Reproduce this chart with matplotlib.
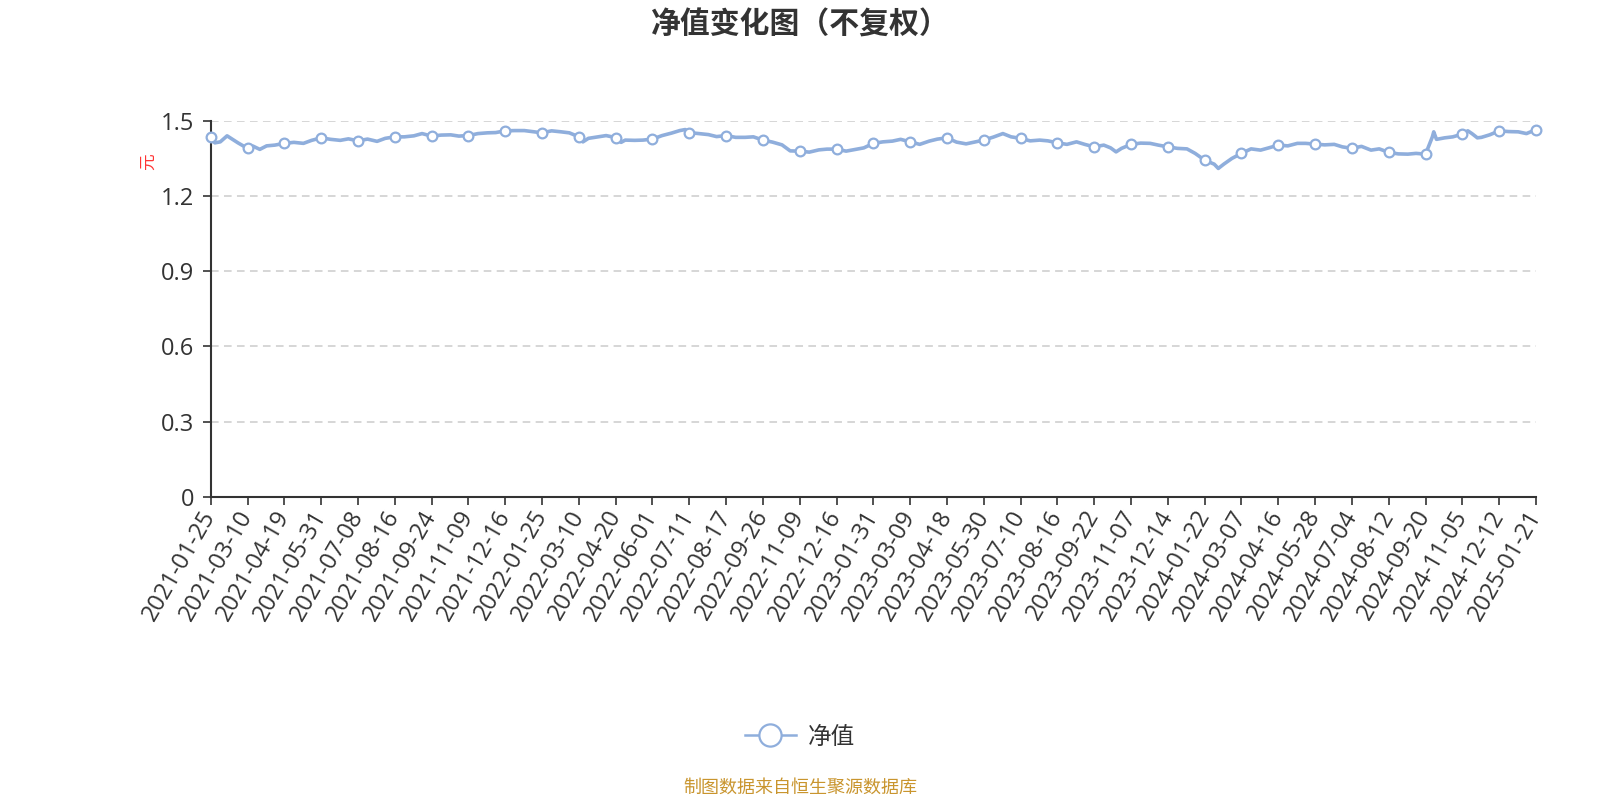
import matplotlib
matplotlib.use("Agg")
import matplotlib.pyplot as plt
from matplotlib.lines import Line2D
import numpy as np

plt.rcParams['font.family'] = ['Noto Sans CJK SC', 'DejaVu Sans']

title = "净值变化图（不复权）"
y_label = "元"
series_name = "净值"
source_text = "制图数据来自恒生聚源数据库"

tick_labels = [
    "2021-01-25", "2021-03-10", "2021-04-19", "2021-05-31", "2021-07-08", "2021-08-16",
    "2021-09-24", "2021-11-09", "2021-12-16", "2022-01-25", "2022-03-10", "2022-04-20",
    "2022-06-01", "2022-07-11", "2022-08-17", "2022-09-26", "2022-11-09", "2022-12-16",
    "2023-01-31", "2023-03-09", "2023-04-18", "2023-05-30", "2023-07-10", "2023-08-16",
    "2023-09-22", "2023-11-07", "2023-12-14", "2024-01-22", "2024-03-07", "2024-04-16",
    "2024-05-28", "2024-07-04", "2024-08-12", "2024-09-20", "2024-11-05", "2024-12-12",
    "2025-01-21",
]
label_interval = 27  # trading-day points between labelled categories

sample_index = [
    0, 3, 7, 12, 20,
    27, 31, 36, 41, 47,
    54, 61, 68, 74,
    81, 88, 95, 101,
    108, 115, 122, 128,
    135, 142, 149, 155,
    162, 169, 176, 182,
    189, 196, 203, 209,
    216, 223, 230, 236,
    243, 250, 257, 263,
    270, 273, 277, 284, 290,
    297, 301, 304, 311, 317,
    324, 331, 338, 344, 348,
    351, 358, 365, 371,
    378, 385, 392, 398,
    405, 412, 419, 425,
    432, 439, 446, 452,
    459, 466, 473, 479,
    486, 493, 500, 506,
    513, 520, 527, 533,
    540, 547, 554, 560,
    567, 574, 581, 587,
    594, 601, 608, 614,
    621, 628, 635, 641,
    648, 655, 660, 664, 668,
    675, 682, 689, 695,
    702, 709, 716, 722,
    729, 736, 739, 743, 749,
    756, 763, 770, 776,
    783, 790, 797, 803,
    810, 817, 824, 830,
    837, 844, 851, 857,
    864, 871, 878, 884,
    891, 893, 896, 897, 899, 905, 911,
    918, 922, 925, 929, 932, 938,
    945, 952, 959, 965,
    972,
]
nav_values = [
    1.436, 1.412, 1.416, 1.440, 1.412,
    1.390, 1.399, 1.386, 1.400, 1.403,
    1.410, 1.414, 1.410, 1.422,
    1.432, 1.426, 1.422, 1.428,
    1.420, 1.427, 1.418, 1.430,
    1.436, 1.436, 1.440, 1.449,
    1.439, 1.443, 1.444, 1.439,
    1.441, 1.449, 1.452, 1.453,
    1.460, 1.461, 1.461, 1.457,
    1.452, 1.460, 1.456, 1.452,
    1.436, 1.416, 1.430, 1.436, 1.441,
    1.433, 1.414, 1.423, 1.422, 1.423,
    1.427, 1.441, 1.451, 1.461, 1.465,
    1.453, 1.449, 1.445, 1.437,
    1.441, 1.434, 1.434, 1.436,
    1.423, 1.415, 1.404, 1.380,
    1.379, 1.375, 1.384, 1.387,
    1.387, 1.379, 1.386, 1.392,
    1.410, 1.416, 1.419, 1.426,
    1.416, 1.406, 1.419, 1.427,
    1.432, 1.415, 1.408, 1.415,
    1.423, 1.435, 1.449, 1.436,
    1.430, 1.420, 1.423, 1.420,
    1.412, 1.406, 1.416, 1.406,
    1.396, 1.403, 1.392, 1.376, 1.390,
    1.406, 1.411, 1.410, 1.403,
    1.396, 1.390, 1.388, 1.370,
    1.343, 1.327, 1.310, 1.327, 1.350,
    1.370, 1.388, 1.383, 1.392,
    1.403, 1.400, 1.410, 1.410,
    1.407, 1.404, 1.406, 1.396,
    1.390, 1.398, 1.383, 1.388,
    1.374, 1.368, 1.367, 1.370,
    1.367, 1.395, 1.436, 1.456, 1.426, 1.432, 1.436,
    1.447, 1.460, 1.449, 1.432, 1.434, 1.444,
    1.460, 1.457, 1.456, 1.449,
    1.465,
]
y_ticks = [0, 0.3, 0.6, 0.9, 1.2, 1.5]
y_tick_labels = ["0", "0.3", "0.6", "0.9", "1.2", "1.5"]

line_color = "#8FAEDC"
text_color = "#333333"
num_font = ['Open Sans', 'DejaVu Sans']

fig = plt.figure(figsize=(16, 8), dpi=100)
ax = fig.add_axes([0.1317, 0.379, 0.8283, 0.470])

tick_pos = np.arange(len(tick_labels)) * label_interval
marker_idx = [k for k, s in enumerate(sample_index) if s % label_interval == 0]

ax.plot(sample_index, nav_values, color=line_color, lw=2.6, solid_joinstyle='round',
        marker='o', markevery=marker_idx, markersize=7, markerfacecolor='white',
        markeredgecolor=line_color, markeredgewidth=1.6, clip_on=False, zorder=3)

ax.set_xlim(0, tick_pos[-1])
ax.set_ylim(0, 1.5)
ax.set_yticks(y_ticks)
ax.set_yticklabels(y_tick_labels, family=num_font)
ax.set_xticks(tick_pos)
ax.set_xticklabels(tick_labels, rotation=60, ha='right', va='center',
                   rotation_mode='anchor', family=num_font)

for y in y_ticks[1:]:
    ax.axhline(y, color='#cccccc', lw=1.1, dashes=(5, 3.5), zorder=1)

for s in ['top', 'right']:
    ax.spines[s].set_visible(False)
for s in ['left', 'bottom']:
    ax.spines[s].set_color(text_color)
    ax.spines[s].set_linewidth(1.5)

ax.tick_params(axis='y', length=6, width=1.2, color=text_color, labelsize=17,
               labelcolor=text_color, pad=6)
ax.tick_params(axis='x', length=6, width=1.2, color=text_color, labelsize=17,
               labelcolor=text_color, pad=5)

fig.text(0.5, 1 - 25 / 800, title, ha='center', va='center', fontsize=21.5,
         fontweight='bold', color=text_color)
fig.text(148 / 1600, 1 - 162 / 800, y_label, ha='center', va='center', fontsize=12,
         color='#ff3333', rotation=90)

handle = Line2D([], [], color=line_color, lw=1.8, marker='o', markersize=16,
                markerfacecolor='white', markeredgecolor=line_color, markeredgewidth=1.6)
fig.legend([handle], [series_name], loc='center', bbox_to_anchor=(0.5, 1 - 737 / 800),
           frameon=False, fontsize=17, handlelength=2.2, handletextpad=0.5,
           labelcolor=text_color)

fig.text(0.5, 1 - 788 / 800, source_text, ha='center', va='center', fontsize=13,
         color='#c9952e')

fig.savefig("out.png", dpi=100)
